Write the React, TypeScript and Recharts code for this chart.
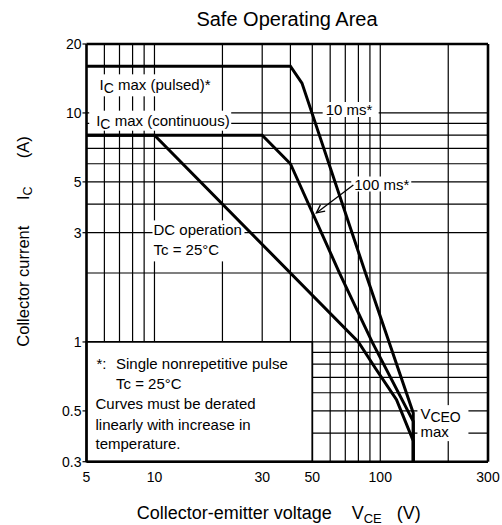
import {
  LineChart,
  Line,
  XAxis,
  YAxis,
  ReferenceLine,
  ReferenceArea,
  ReferenceDot,
} from "recharts";

const FONT = '"Liberation Sans", Arial, Helvetica, sans-serif';
const INK = "#000";

// axis ticks and log grid
const X_TICKS = [5, 10, 30, 50, 100, 300];
const Y_TICKS = [0.3, 0.5, 1, 3, 5, 10, 20];
const X_GRID = [6, 7, 8, 9, 10, 20, 30, 40, 50, 60, 70, 80, 90, 100, 200];
const Y_GRID = [0.4, 0.5, 0.6, 0.7, 0.8, 0.9, 1, 2, 3, 4, 5, 6, 7, 8, 9, 10];

// SOA boundaries (V_CE in V, I_C in A)
const PULSED_10MS_V = [5, 40, 45, 86, 140, 140];
const PULSED_10MS_I = [16, 16, 13.5, 2, 0.49, 0.3];
const PULSED_100MS_V = [5, 30, 40, 66, 92, 140, 140];
const PULSED_100MS_I = [8, 8, 6, 2, 1, 0.45, 0.3];
const DC_V = [5, 10, 80, 95, 118, 140, 140];
const DC_I = [8, 8, 1, 0.77, 0.56, 0.37, 0.3];

const toPoints = (vs: number[], is: number[]) =>
  vs.map((v, k) => ({ v, i: is[k] }));

const CURVES = [
  { key: "dc", data: toPoints(DC_V, DC_I) },
  { key: "100ms", data: toPoints(PULSED_100MS_V, PULSED_100MS_I) },
  { key: "10ms", data: toPoints(PULSED_10MS_V, PULSED_10MS_I) },
];

const txt = { fontSize: 15, fontFamily: FONT, fill: INK };

function PulsedTag({ cx, cy }: any) {
  return (
    <g>
      <rect x={cx - 4} y={cy - 11} width={117} height={22} fill="#fff" />
      <text x={cx} y={cy + 5} {...txt}>
        I<tspan fontSize={14} dy={3}>C</tspan>
        <tspan dy={-3}>{" max (pulsed)*"}</tspan>
      </text>
    </g>
  );
}

function ContinuousTag({ cx, cy }: any) {
  return (
    <g>
      <rect x={cx - 7} y={cy - 10} width={142} height={20} fill="#fff" />
      <text x={cx} y={cy + 5} {...txt}>
        I<tspan fontSize={14} dy={3}>C</tspan>
        <tspan dy={-3}>{" max (continuous)"}</tspan>
      </text>
    </g>
  );
}

function DcTag({ cx, cy }: any) {
  return (
    <g>
      <rect x={cx - 2} y={cy - 10} width={92} height={41} fill="#fff" />
      <text x={cx - 1} y={cy + 5} {...txt}>DC operation</text>
      <text x={cx - 1} y={cy + 25} {...txt}>Tc = 25°C</text>
    </g>
  );
}

function MsTag({ cx, cy, label, w }: any) {
  return (
    <g>
      <rect x={cx - 3} y={cy - 8} width={w} height={15} fill="#fff" />
      <text x={cx} y={cy + 5} {...txt}>{label}</text>
    </g>
  );
}

function VceoTag({ cx, cy }: any) {
  return (
    <g>
      <rect x={cx - 3} y={cy - 9} width={51} height={36} fill="#fff" />
      <text x={cx} y={cy + 5} {...txt}>
        V<tspan fontSize={14} dy={3}>CEO</tspan>
      </text>
      <text x={cx} y={cy + 23} {...txt}>max</text>
    </g>
  );
}

function NoteTag({ cx, cy }: any) {
  return (
    <g>
      <text x={cx + 10} y={cy + 27} {...txt}>*:</text>
      <text x={cx + 29.5} y={cy + 27} {...txt}>Single nonrepetitive pulse</text>
      <text x={cx + 29.5} y={cy + 47} {...txt}>Tc = 25°C</text>
      <text x={cx + 9} y={cy + 67} {...txt}>Curves must be derated</text>
      <text x={cx + 9} y={cy + 88} {...txt}>linearly with increase in</text>
      <text x={cx + 9} y={cy + 107} {...txt}>temperature.</text>
    </g>
  );
}

function Arrow({ x1, y1, x2, y2 }: any) {
  const a = Math.atan2(y2 - y1, x2 - x1);
  const len = 9;
  const spread = 0.45;
  const p1 = [x2 - len * Math.cos(a - spread), y2 - len * Math.sin(a - spread)];
  const p2 = [x2 - len * Math.cos(a + spread), y2 - len * Math.sin(a + spread)];
  return (
    <g stroke={INK} strokeWidth={1.3} fill="none">
      <line x1={x1} y1={y1} x2={x2} y2={y2} />
      <polyline points={`${p1[0]},${p1[1]} ${x2},${y2} ${p2[0]},${p2[1]}`} />
    </g>
  );
}

export default function App() {
  return (
    <div
      style={{
        position: "absolute",
        left: 0,
        top: 0,
        width: 502,
        height: 525,
        background: "#fff",
      }}
    >
      <LineChart
        width={502}
        height={525}
        margin={{ top: 44, right: 14, bottom: 33.3, left: 30.5 }}
      >
        <XAxis
          type="number"
          dataKey="v"
          scale="log"
          domain={[5, 300]}
          allowDataOverflow
          ticks={X_TICKS}
          interval={0}
          height={30}
          axisLine={false}
          tickLine={false}
          tickSize={6}
          tickMargin={4}
          tick={{ fill: INK, fontSize: 14, fontFamily: FONT }}
        />
        <YAxis
          type="number"
          dataKey="i"
          scale="log"
          domain={[0.3, 20]}
          allowDataOverflow
          ticks={Y_TICKS}
          interval={0}
          width={56}
          axisLine={false}
          tickLine={{ stroke: INK, strokeWidth: 1.2 }}
          tickSize={4}
          tickMargin={1}
          tick={{ fill: INK, fontSize: 14, fontFamily: FONT }}
        />

        {X_GRID.map((v) => (
          <ReferenceLine key={`gx${v}`} x={v} stroke={INK} strokeWidth={1.2} zIndex={100} />
        ))}
        {Y_GRID.map((i) => (
          <ReferenceLine key={`gy${i}`} y={i} stroke={INK} strokeWidth={1.2} zIndex={100} />
        ))}

        <ReferenceArea
          x1={5}
          x2={50}
          y1={0.3}
          y2={1}
          fill="#fff"
          fillOpacity={1}
          stroke={INK}
          strokeWidth={1.8}
          zIndex={200}
        />
        <ReferenceDot x={5} y={1} r={0} shape={NoteTag} zIndex={300} />
        <ReferenceDot x={5.71} y={13.2} r={0} shape={PulsedTag} zIndex={300} />
        <ReferenceDot x={5.52} y={9.25} r={0} shape={ContinuousTag} zIndex={300} />
        <ReferenceDot x={10} y={3.07} r={0} shape={DcTag} zIndex={300} />
        <ReferenceDot
          x={57.3}
          y={10.3}
          r={0}
          shape={(p: any) => <MsTag {...p} label="10 ms*" w={56} />}
          zIndex={300}
        />
        <ReferenceDot
          x={76.7}
          y={4.87}
          r={0}
          shape={(p: any) => <MsTag {...p} label="100 ms*" w={60} />}
          zIndex={300}
        />
        <ReferenceDot x={150.6} y={0.484} r={0} shape={VceoTag} zIndex={300} />
        <ReferenceLine
          segment={[
            { x: 76, y: 4.85 },
            { x: 52.1, y: 3.66 },
          ]}
          shape={Arrow}
          zIndex={300}
        />

        {CURVES.map((c) => (
          <Line
            key={c.key}
            data={c.data}
            dataKey="i"
            type="linear"
            stroke={INK}
            strokeWidth={3}
            dot={false}
            activeDot={false}
            isAnimationActive={false}
            zIndex={400}
          />
        ))}

        {/* plot frame */}
        <ReferenceLine x={5} stroke={INK} strokeWidth={2.6} zIndex={500} />
        <ReferenceLine x={300} stroke={INK} strokeWidth={2.6} zIndex={500} />
        <ReferenceLine y={0.3} stroke={INK} strokeWidth={2.6} zIndex={500} />
        <ReferenceLine y={20} stroke={INK} strokeWidth={2.6} zIndex={500} />
      </LineChart>

      <svg
        width={502}
        height={525}
        style={{ position: "absolute", left: 0, top: 0, pointerEvents: "none" }}
      >
        <text x={287} y={26} textAnchor="middle" fontSize={20} fontFamily={FONT} fill={INK}>
          Safe Operating Area
        </text>
        <g fontSize={18} fontFamily={FONT} fill={INK}>
          <text x={136.7} y={519}>Collector-emitter voltage</text>
          <text x={351.7} y={519}>
            V<tspan fontSize={13} dy={3.5}>CE</tspan>
          </text>
          <text x={396.7} y={519}>(V)</text>
        </g>
        <g transform="translate(29.3, 346.7) rotate(-90)" fontSize={16.5} fontFamily={FONT} fill={INK}>
          <text x={0} y={0}>Collector current</text>
          <text x={146.7} y={0}>
            I<tspan fontSize={12.5} dy={3}>C</tspan>
          </text>
          <text x={188.4} y={0}>(A)</text>
        </g>
      </svg>
    </div>
  );
}
